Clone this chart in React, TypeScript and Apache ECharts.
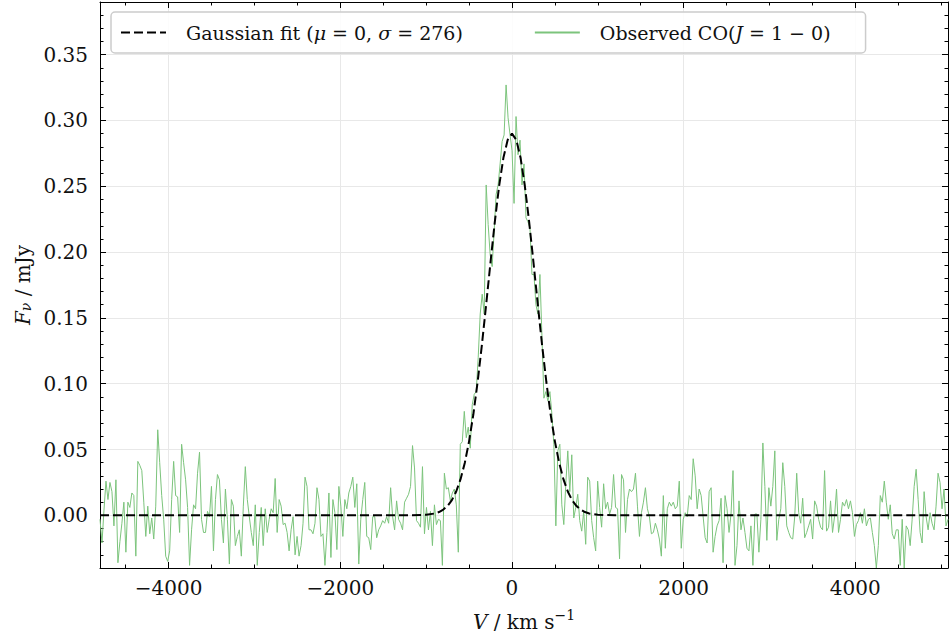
import React, { useEffect, useRef } from 'react';
import * as echarts from 'echarts';

// ---- data ----
const V_START = -4800; // km/s, first channel
const V_END = 5080; // km/s, last channel

// Observed CO(1-0) spectrum, mJy, evenly spaced channels from V_START to V_END
const OBS_FLUX: number[] = [
  // -4800 .. ~-3570
  -0.003, -0.021, 0.004, 0.026, 0.012, 0.025, 0.018, -0.008, 0.027, -0.036,
  -0.020, -0.006, 0.010, -0.028, 0.010, 0.006, 0.017, 0.015, -0.031, 0.041,
  0.038, 0.034, 0.010, -0.016, 0.007, -0.014, -0.002, -0.018, 0.007, 0.065,
  0.040, 0.015, -0.003, -0.031, -0.035, -0.027, 0.012, 0.041, 0.015, 0.014,
  -0.013, 0.054, 0.040, 0.027, 0.006, -0.038, -0.011, 0.008, 0.005, 0.032,
  0.048, -0.003, -0.013,
  // ~-3570 .. ~-2330
  -0.013, 0.003, -0.001, 0.022, -0.027, 0.012, 0.031, 0.027, -0.003, -0.021,
  0.020, -0.003, -0.037, 0.012, 0.007, -0.023, -0.016, -0.011, -0.031, 0.007,
  0.037, 0.012, -0.001, -0.013, -0.023, 0.008, -0.038, -0.013, 0.006, -0.023,
  0.005, -0.013, -0.003, 0.005, 0.002, 0.028, -0.013, 0.012, 0.007, -0.007,
  -0.006, -0.013, -0.027, -0.011, -0.001, -0.030, -0.016, -0.031, -0.023, -0.006,
  0.029, 0.022, -0.011,
  // ~-2330 .. ~-1100
  -0.011, -0.014, -0.006, 0.021, 0.012, -0.016, -0.014, -0.038, -0.013, 0.017,
  -0.032, 0.012, 0.002, -0.026, 0.022, 0.007, -0.016, 0.012, 0.005, 0.017,
  0.022, 0.029, 0.006, 0.024, -0.037, -0.003, 0.012, 0.025, -0.016, -0.017,
  -0.026, -0.001, -0.001, -0.017, -0.011, -0.008, -0.004, -0.006, -0.001, -0.006,
  0.021, -0.001, -0.011, 0.011, -0.003, -0.006, -0.011, 0.010, 0.013, 0.016,
  0.022, 0.053,
  // ~-1100 .. ~1080 (line)
  0.036, -0.004, -0.006, -0.009, 0.037, -0.014, 0.006, -0.011, 0.003, -0.023,
  0.008, -0.007, -0.003, -0.004, -0.038, 0.032, 0.020, 0.021, 0.011, 0.017,
  0.020, 0.008, -0.028,
  0.054, 0.056, 0.079, 0.059, 0.067, 0.051, 0.084, 0.092, 0.094, 0.120,
  0.153, 0.168, 0.153, 0.251, 0.221, 0.198, 0.189, 0.216, 0.244, 0.251,
  0.267, 0.284, 0.289, 0.327, 0.302, 0.289, 0.277, 0.237, 0.303, 0.274,
  0.285, 0.251, 0.267, 0.226, 0.223, 0.218, 0.183, 0.183, 0.160, 0.153,
  0.183, 0.137, 0.089, 0.094, 0.087, 0.094, 0.077, 0.054,
  -0.008, 0.049, 0.054, 0.008, -0.007, 0.024, 0.049, 0.018, 0.046, -0.002,
  0.006, 0.016, -0.004, -0.012, 0.003, -0.022, 0.029, 0.026, -0.004, -0.017,
  -0.027, 0.026, 0.006, -0.009, 0.024,
  // ~1100 .. ~2270
  0.005, 0.010, 0.001, 0.006, 0.031, 0.006, 0.005, -0.033, 0.031, 0.027,
  -0.013, 0.012, 0.020, 0.018, 0.020, 0.032, 0.007, -0.016, 0.002, 0.010,
  0.021, 0.005, -0.001, -0.014, -0.013, -0.006, -0.011, -0.018, -0.031, 0.015,
  -0.025, 0.005, 0.010, 0.007, 0.010, 0.005, 0.007, 0.026, -0.025, -0.003,
  0.002, -0.001, 0.015, 0.012, 0.043, 0.030, 0.005, 0.020, 0.015, -0.001,
  -0.017, -0.021,
  // ~2270 .. ~3500
  0.018, 0.021, -0.028, -0.016, -0.008, -0.004, 0.013, -0.036, 0.015, 0.005,
  -0.013, 0.001, 0.034, -0.038, -0.023, 0.011, -0.011, -0.002, -0.013, -0.025,
  -0.027, -0.008, -0.038, 0.001, 0.001, -0.028, -0.003, 0.055, 0.022, -0.019,
  0.021, 0.007, 0.022, 0.049, -0.019, -0.003, 0.005, 0.040, 0.022, -0.008,
  -0.013, -0.017, -0.018, -0.001, 0.032, 0.002, -0.006, 0.013, -0.017, -0.013,
  -0.008, -0.003,
  // ~3500 .. 5080
  -0.018, 0.011, 0.007, -0.003, -0.009, -0.011, 0.034, -0.012, -0.009, 0.011,
  -0.013, -0.001, 0.020, -0.013, -0.003, 0.010, 0.007, 0.012, 0.005, 0.011,
  0.002, -0.016, -0.007, -0.004, 0.002, -0.006, 0.005, -0.008, -0.003, -0.002,
  -0.013, -0.023, -0.040, -0.023, 0.015, 0.010, 0.026, 0.010, -0.003, 0.008,
  -0.014, -0.018, -0.011, -0.011, -0.038, -0.003, -0.040, -0.008, -0.011, -0.023,
  -0.003, 0.022, 0.035, 0.012, -0.013, -0.021, 0.018, -0.001, -0.011, 0.002,
  -0.006, -0.011, 0.007, 0.032, 0.025, 0.005, 0.020, -0.008, -0.003,
];

// Gaussian fit curve (mu = 0, sigma = 276), sampled points
const GAUSS_V: number[] = [
  -4800, -1200, -1000, -900, -850, -800, -750, -700, -650, -600, -550, -500, -450, -400,
  -350, -300, -250, -200, -150, -100, -50, 0, 50, 100, 150, 200, 250, 300, 350,
  400, 450, 500, 550, 600, 650, 700, 750, 800, 850, 900, 1000, 1200, 5080,
];
const GAUSS_F: number[] = [
  0, 0.0, 0.0004, 0.0014, 0.0025, 0.0044, 0.0072, 0.0116, 0.0181, 0.0273, 0.0398, 0.0562, 0.0768, 0.1015,
  0.1298, 0.1607, 0.1924, 0.223, 0.2502, 0.2716, 0.2853, 0.29, 0.2853, 0.2716, 0.2502, 0.223, 0.1924, 0.1607, 0.1298,
  0.1015, 0.0768, 0.0562, 0.0398, 0.0273, 0.0181, 0.0116, 0.0072, 0.0044, 0.0025, 0.0014, 0.0004, 0.0, 0,
];

const X_MIN = -4800;
const X_MAX = 5080;
const Y_MIN = -0.04;
const Y_MAX = 0.39;
const X_MAJOR = 2000;
const Y_MAJOR = 0.05;

const SERIES_FIT = 'Gaussian fit';
const SERIES_OBS = 'Observed CO';

const FONT = "'DejaVu Serif', 'Liberation Serif', serif";

export default function App() {
  const ref = useRef<HTMLDivElement>(null);

  useEffect(() => {
    document.body.style.margin = '0';
    const chart = echarts.init(ref.current as HTMLDivElement, null, { renderer: 'svg' });
    const n = OBS_FLUX.length;
    const step = (V_END - V_START) / (n - 1);
    const obs = OBS_FLUX.map((f, i) => [V_START + i * step, f]);
    const fit = GAUSS_V.map((v, i) => [v, GAUSS_F[i]]);

    const tickFont = { fontFamily: FONT, fontSize: 20, color: '#111' };
    const legendRich = {
      n: { fontFamily: FONT, fontSize: 19, color: '#111' },
      i: { fontFamily: FONT, fontSize: 19, color: '#111', fontStyle: 'italic' },
    };
    const nameRich = {
      n: { fontFamily: FONT, fontSize: 20, color: '#111' },
      i: { fontFamily: FONT, fontSize: 20, color: '#111', fontStyle: 'italic' },
      sup: { fontFamily: FONT, fontSize: 14, color: '#111', verticalAlign: 'top', lineHeight: 28 },
      sub: { fontFamily: FONT, fontSize: 14, color: '#111', fontStyle: 'italic', verticalAlign: 'bottom', lineHeight: 16, padding: [10, 0, 0, 0] },
    };

    const baseX = {
      type: 'value',
      min: X_MIN,
      max: X_MAX,
      minInterval: X_MAJOR,
      maxInterval: X_MAJOR,
      axisLine: { show: true, onZero: false, lineStyle: { color: '#000', width: 1 } },
      axisTick: { show: true, inside: true, length: 6, lineStyle: { color: '#000', width: 1 } },
      minorTick: { show: true, splitNumber: 4, length: 3.5, lineStyle: { color: '#000', width: 1 } },
    };
    const baseY = {
      type: 'value',
      min: Y_MIN,
      max: Y_MAX,
      minInterval: Y_MAJOR,
      maxInterval: Y_MAJOR,
      axisLine: { show: true, onZero: false, lineStyle: { color: '#000', width: 1 } },
      axisTick: { show: true, inside: true, length: 6, lineStyle: { color: '#000', width: 1 } },
      minorTick: { show: true, splitNumber: 5, length: 3.5, lineStyle: { color: '#000', width: 1 } },
    };

    chart.setOption({
      animation: false,
      backgroundColor: '#fff',
      grid: { left: 100, right: 1, top: 2, bottom: 73, containLabel: false },
      legend: {
        data: [SERIES_FIT, SERIES_OBS],
        left: 111,
        top: 12,
        padding: [11, 35, 11, 9],
        itemWidth: 45,
        itemHeight: 14,
        itemGap: 71,
        itemStyle: { opacity: 0 },
        borderColor: '#cccccc',
        borderWidth: 1.5,
        borderRadius: 4,
        backgroundColor: 'rgba(255,255,255,0.85)',
        textStyle: { fontFamily: FONT, fontSize: 19, color: '#111', padding: [0, 0, 0, 15], rich: legendRich },
        formatter: (name: string) =>
          name === SERIES_FIT
            ? '{n|Gaussian fit (}{i|μ}{n| = 0, }{i|σ}{n| = 276)}'
            : '{n|Observed CO(}{i|J}{n| = 1 − 0)}',
      },
      xAxis: [
        {
          ...baseX,
          position: 'bottom',
          name: '{i|V}{n| / km s}{sup|−1}',
          nameLocation: 'middle',
          nameGap: 40,
          nameTextStyle: { rich: nameRich },
          axisLabel: {
            ...tickFont,
            margin: 10,
            showMinLabel: false,
            showMaxLabel: false,
            formatter: (v: number) => (v < 0 ? '\u2212' + Math.abs(v) : String(v)),
          },
          splitLine: { show: true, lineStyle: { color: '#e8e8e8', width: 1 } },
        },
        {
          ...baseX,
          position: 'top',
          axisLabel: { show: false },
          splitLine: { show: false },
        },
      ],
      yAxis: [
        {
          ...baseY,
          position: 'left',
          name: '{i|F}{sub|ν}{n| / mJy}',
          nameLocation: 'middle',
          nameGap: 66,
          nameRotate: 90,
          nameTextStyle: { rich: nameRich },
          axisLabel: {
            ...tickFont,
            margin: 12,
            showMinLabel: false,
            showMaxLabel: false,
            formatter: (v: number) => v.toFixed(2),
          },
          splitLine: { show: true, lineStyle: { color: '#e8e8e8', width: 1 } },
        },
        {
          ...baseY,
          position: 'right',
          axisLabel: { show: false },
          splitLine: { show: false },
        },
      ],
      series: [
        {
          name: SERIES_OBS,
          type: 'line',
          xAxisIndex: 0,
          yAxisIndex: 0,
          data: obs,
          symbol: 'none',
          lineStyle: { color: '#7cc47c', width: 1 },
          itemStyle: { color: '#7cc47c' },
          z: 2,
        },
        {
          name: SERIES_FIT,
          type: 'line',
          xAxisIndex: 0,
          yAxisIndex: 0,
          data: fit,
          symbol: 'none',
          lineStyle: { color: '#000', width: 2, type: [9, 4] },
          itemStyle: { color: '#000' },
          z: 3,
        },
      ],
    });

    return () => chart.dispose();
  }, []);

  return <div ref={ref} style={{ position: 'fixed', left: 0, top: 0, width: 949, height: 641 }} />;
}
